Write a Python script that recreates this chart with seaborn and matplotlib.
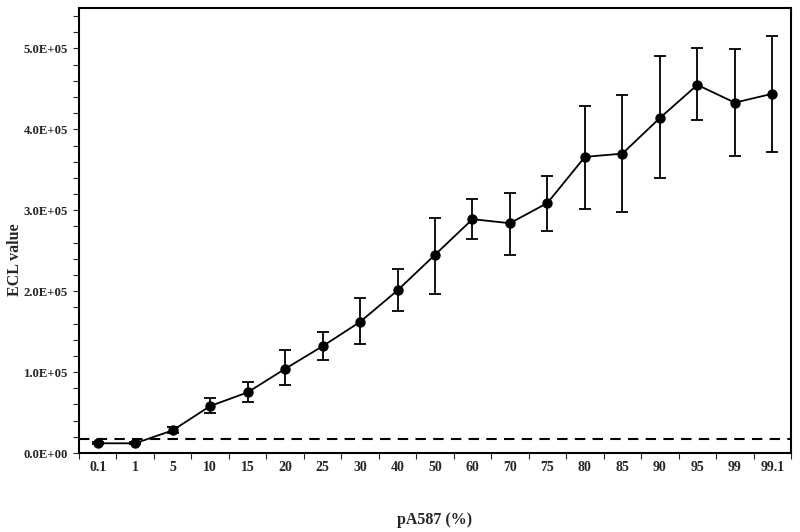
import matplotlib
matplotlib.use("Agg")
import matplotlib.pyplot as plt
import seaborn as sns
import pandas as pd
import numpy as np
from matplotlib.ticker import MultipleLocator, FuncFormatter, FixedLocator

categories = ["0.1", "1", "5", "10", "15", "20", "25", "30", "40", "50",
              "60", "70", "75", "80", "85", "90", "95", "99", "99.1"]
ecl_mean = [12000, 12000, 28000, 58000, 75000, 104000, 132000, 162000, 201000, 245000,
            289000, 284000, 309000, 366000, 370000, 414000, 455000, 433000, 444000]
ecl_low = [11000, 11000, 25000, 49000, 63000, 84000, 115000, 135000, 176000, 196000,
           264000, 245000, 274000, 301000, 298000, 340000, 411000, 367000, 372000]
ecl_high = [13000, 13000, 32000, 68000, 88000, 127000, 149000, 191000, 228000, 291000,
            314000, 321000, 342000, 429000, 442000, 491000, 501000, 499000, 516000]
cutoff = 17000

sns.set_style("white")
plt.rcParams["font.family"] = ["Liberation Serif", "DejaVu Serif"]
plt.rcParams["font.weight"] = "bold"

df = pd.DataFrame({"pA587": categories, "ECL": ecl_mean})

W, H = 800, 532
L, R, T, B = 79, 791, 8, 453
fig = plt.figure(figsize=(W / 100, H / 100), dpi=100)
ax = fig.add_axes([L / W, 1 - B / H, (R - L) / W, (B - T) / H])

x = np.arange(len(categories))
mean = np.array(ecl_mean)
yerr = np.vstack([mean - np.array(ecl_low), np.array(ecl_high) - mean])
ax.errorbar(x, mean, yerr=yerr, fmt="none", ecolor="black", elinewidth=1.3,
            capsize=4, capthick=1.3, zorder=2)
sns.pointplot(data=df, x="pA587", y="ECL", color="black", markers="o",
              linestyles="-", errorbar=None, ax=ax, markersize=6.5, linewidth=1.3,
              order=categories)

ax.axhline(cutoff, color="black", linestyle=(0, (5, 3.5)), linewidth=1.5, zorder=1)

ax.set_xlim(-0.5, len(categories) - 0.5)
ax.set_ylim(0, 550000)

ax.yaxis.set_major_locator(MultipleLocator(100000))
ax.yaxis.set_minor_locator(MultipleLocator(20000))
ax.yaxis.set_major_formatter(FuncFormatter(lambda v, p: f"{v:.1E}"))
ax.set_xticks(x)
ax.set_xticklabels(categories)
ax.xaxis.set_minor_locator(FixedLocator(np.arange(-0.5, len(categories), 1.0)))

ax.tick_params(axis="x", which="major", length=0, pad=5.5, labelsize=10)
ax.tick_params(axis="x", which="minor", length=4, width=0.8, direction="out", bottom=True)
ax.tick_params(axis="y", which="major", length=4, width=0.8, direction="out", left=True,
               labelsize=9.2, pad=4)
ax.tick_params(axis="y", which="minor", length=4, width=0.8, direction="out", left=True)

for lab in ax.get_xticklabels() + ax.get_yticklabels():
    lab.set_fontweight("bold")

for s in ax.spines.values():
    s.set_visible(True)
    s.set_color("black")
    s.set_linewidth(1.5)

ax.set_xlabel("pA587 (%)", fontsize=11.5, fontweight="bold", va="center")
ax.set_ylabel("ECL value", fontsize=11.5, fontweight="bold", va="center")
ax.xaxis.set_label_coords(0.5, -(520 - B) / (B - T))
ax.yaxis.set_label_coords((15 - L) / (R - L), (B - 260) / (B - T))

fig.savefig("out.png", dpi=100)
